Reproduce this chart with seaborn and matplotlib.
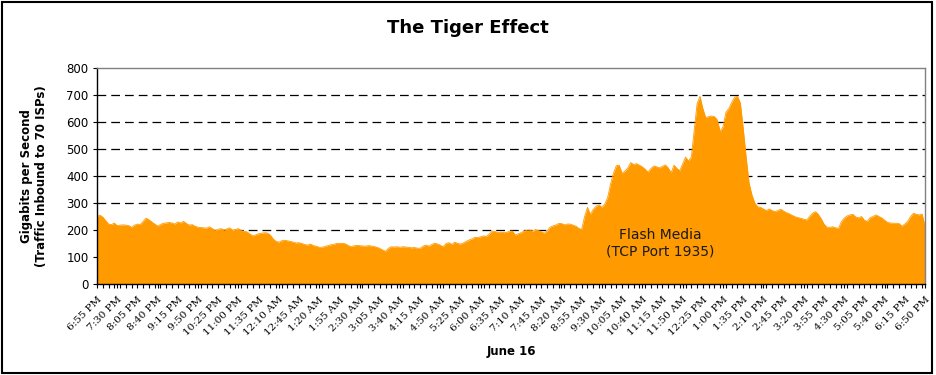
import numpy as np
import pandas as pd
import matplotlib.pyplot as plt
import seaborn as sns
from matplotlib.patches import Rectangle

sns.set_theme(style="white")
plt.rcParams['font.family'] = ['DejaVu Sans']
plt.rcParams['text.color'] = 'black'
plt.rcParams['xtick.color'] = 'black'
plt.rcParams['ytick.color'] = 'black'
plt.rcParams['axes.labelcolor'] = 'black'

# 5-minute samples, 6:55 PM -> 6:50 PM next day (Gbps)
traffic = [
    250, 255, 248, 235, 222, 220, 226, 216, 218, 219, 218, 216,
    210, 218, 222, 220, 232, 244, 238, 230, 222, 215, 220, 225,
    226, 228, 226, 222, 230, 226, 232, 224, 218, 220, 214, 210,
    209, 208, 207, 212, 205, 198, 203, 205, 200, 204, 208, 200,
    202, 205, 198, 195, 193, 185, 178, 182, 186, 188, 190, 189,
    182, 168, 158, 155, 160, 162, 160, 158, 155, 152, 153, 150,
    146, 144, 148, 142, 140, 136, 136, 139, 142, 145, 147, 150,
    150, 151, 149, 143, 138, 141, 143, 142, 141, 140, 142, 141,
    139, 136, 132, 126, 121, 132, 138, 137, 138, 136, 138, 137,
    136, 134, 135, 133, 132, 140, 144, 140, 146, 151, 148, 144,
    138, 150, 153, 146, 155, 150, 148, 152, 158, 163, 167, 173,
    172, 175, 178, 176, 186, 196, 194, 190, 192, 190, 191, 196,
    196, 181, 186, 190, 196, 199, 200, 195, 202, 198, 194, 188,
    196, 210, 215, 218, 224, 224, 219, 222, 222, 218, 214, 206,
    202, 250, 284, 258, 276, 288, 293, 284, 296, 320, 370, 410,
    438, 440, 410, 418, 430, 450, 442, 446, 440, 434, 425, 414,
    428, 437, 434, 430, 436, 441, 430, 412, 440, 428, 420, 445,
    470, 456, 470, 570, 668, 695, 650, 616, 620, 622, 620, 608,
    564, 583, 636, 650, 672, 692, 695, 670, 575, 470, 375, 330,
    300, 286, 284, 278, 272, 278, 272, 268, 272, 277, 270, 264,
    260, 254, 249, 246, 243, 240, 237, 250, 262, 268, 258, 242,
    222, 210, 210, 212, 208, 206, 230, 244, 252, 256, 258, 248,
    245, 250, 236, 232, 246, 250, 256, 250, 245, 236, 228, 226,
    225, 225, 224, 214, 222, 232, 250, 262, 258, 256, 259, 215,
]

tick_labels = [
    "6:55 PM", "7:30 PM", "8:05 PM", "8:40 PM", "9:15 PM", "9:50 PM",
    "10:25 PM", "11:00 PM", "11:35 PM", "12:10 AM", "12:45 AM", "1:20 AM",
    "1:55 AM", "2:30 AM", "3:05 AM", "3:40 AM", "4:15 AM", "4:50 AM",
    "5:25 AM", "6:00 AM", "6:35 AM", "7:10 AM", "7:45 AM", "8:20 AM",
    "8:55 AM", "9:30 AM", "10:05 AM", "10:40 AM", "11:15 AM", "11:50 AM",
    "12:25 PM", "1:00 PM", "1:35 PM", "2:10 PM", "2:45 PM", "3:20 PM",
    "3:55 PM", "4:30 PM", "5:05 PM", "5:40 PM", "6:15 PM", "6:50 PM",
]

df = pd.DataFrame({"slot": np.arange(len(traffic)), "gbps": traffic})
orange = "#FF9A00"

fig = plt.figure(figsize=(9.36, 3.75), dpi=100)
ax = fig.add_axes([97 / 936, 1 - 284 / 375, 828 / 936, 216 / 375])

# dashed gridlines behind the area
for v in range(100, 800, 100):
    ax.axhline(v, color="black", lw=0.9, ls=(0, (7, 4)), zorder=1)

ax.fill_between(df["slot"], df["gbps"], color=orange, lw=0, zorder=2)
sns.lineplot(data=df, x="slot", y="gbps", color=orange, lw=0.6, ax=ax, zorder=3)

ax.set_xlim(0, len(traffic) - 1)
ax.set_ylim(0, 800)
ax.set_yticks(range(0, 801, 100))
ax.set_xticks(range(0, len(traffic), 7))
ax.set_xticklabels(tick_labels, rotation=45, ha="right", rotation_mode="anchor",
                   fontsize=7.5, family="DejaVu Serif")
ax.set_xticks(range(0, len(traffic), 2), minor=True)
ax.tick_params(axis="x", which="both", bottom=True, direction="out", length=3,
               width=0.8, color="black", pad=5)
ax.tick_params(axis="y", left=True, direction="out", length=3, width=0.8,
               color="black", labelsize=8.5, pad=3)
ax.set_xlabel("")
ax.set_ylabel("")

ax.spines["left"].set_color("black")
ax.spines["bottom"].set_color("black")
ax.spines["top"].set_color("#808080")
ax.spines["right"].set_color("#808080")
for s in ax.spines.values():
    s.set_linewidth(1)
    s.set_zorder(4)

ax.text(0.68, 0.19, "Flash Media\n(TCP Port 1935)", transform=ax.transAxes,
        ha="center", va="center", fontsize=10, color="#1a1a1a", zorder=5)

fig.text(0.5, 1 - 28 / 375, "The Tiger Effect", ha="center", va="center",
         fontsize=13, weight="bold")
fig.text(34 / 936, 1 - 176 / 375,
         "Gigabits per Second\n(Traffic Inbound to 70 ISPs)", rotation=90,
         ha="center", va="center", multialignment="center", fontsize=8.5,
         weight="bold")
fig.text(511 / 936, 1 - 351 / 375, "June 16", ha="center", va="center",
         fontsize=8.5, weight="bold")

fig.patches.append(Rectangle((0.002, 0.006), 0.994, 0.988, fill=False,
                             ec="black", lw=1.5, transform=fig.transFigure,
                             figure=fig))

fig.savefig("out.png", dpi=100)
